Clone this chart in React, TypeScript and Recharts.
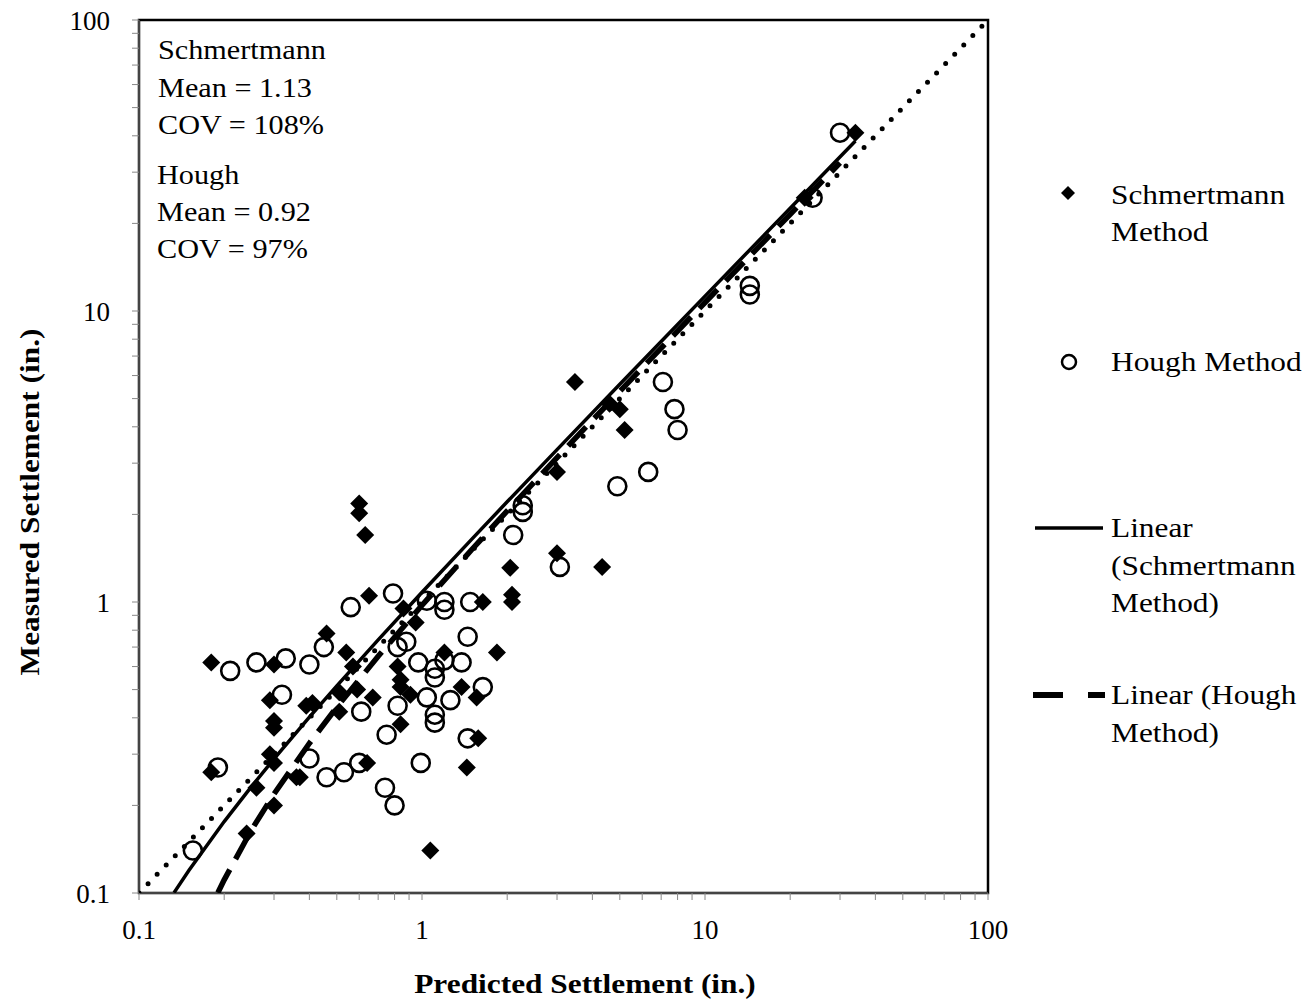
import React from 'react';
import { ScatterChart, Scatter, XAxis, YAxis, ReferenceArea } from 'recharts';

const FONT = '"Liberation Serif", "Times New Roman", serif';

// Schmertmann method, predicted vs measured settlement (in.)
const schmertmannPredicted = [
  0.18, 0.3, 0.46, 0.29, 0.41, 0.39, 0.3, 0.3, 0.29, 0.3, 0.18, 0.26, 0.36, 0.3, 0.24,
  0.65, 0.86, 1.64, 2.08, 2.08, 2.05, 0.95, 1.84, 0.54, 0.57, 0.82, 0.84, 0.84, 1.38,
  1.56, 0.51, 0.59, 0.67, 0.51, 0.91, 0.84, 1.58, 0.64, 1.44, 1.07, 0.37, 0.6, 0.6,
  0.63, 3.47, 3.0, 3.0, 4.33, 4.6, 5.0, 5.2, 34, 22.5, 1.2,
];
const schmertmannMeasured = [
  0.62, 0.61, 0.78, 0.46, 0.45, 0.44, 0.39, 0.37, 0.3, 0.28, 0.26, 0.23, 0.25, 0.2, 0.16,
  1.05, 0.95, 1.0, 1.0, 1.06, 1.31, 0.85, 0.67, 0.67, 0.6, 0.6, 0.54, 0.51, 0.51,
  0.47, 0.49, 0.5, 0.47, 0.42, 0.48, 0.38, 0.34, 0.28, 0.27, 0.14, 0.25, 2.18, 2.02,
  1.7, 5.7, 2.8, 1.47, 1.32, 4.8, 4.6, 3.9, 41, 24.5, 0.67,
];

// Hough method
const houghPredicted = [
  0.21, 0.26, 0.33, 0.4, 0.45, 0.32, 0.4, 0.46, 0.19, 0.155, 0.79, 0.56, 1.04, 1.2, 1.2,
  1.48, 1.45, 0.82, 0.88, 0.97, 1.11, 1.2, 1.38, 1.11, 1.64, 0.61, 0.82, 1.04, 1.26,
  1.11, 1.11, 0.75, 1.45, 0.53, 0.6, 0.99, 0.74, 0.8, 2.27, 2.27, 2.1, 3.07, 4.9, 6.3,
  7.1, 7.8, 8.0, 14.4, 14.4, 24, 30,
];
const houghMeasured = [
  0.58, 0.62, 0.64, 0.61, 0.7, 0.48, 0.29, 0.25, 0.27, 0.14, 1.07, 0.96, 1.01, 1.0, 0.94,
  1.0, 0.76, 0.7, 0.73, 0.62, 0.59, 0.63, 0.62, 0.55, 0.51, 0.42, 0.44, 0.47, 0.46,
  0.41, 0.385, 0.35, 0.34, 0.26, 0.28, 0.28, 0.23, 0.2, 2.15, 2.04, 1.7, 1.32, 2.5, 2.8,
  5.7, 4.6, 3.9, 12.2, 11.4, 24.5, 41,
];

const axisTicks = [
  0.1, 0.2, 0.3, 0.4, 0.5, 0.6, 0.7, 0.8, 0.9,
  1, 2, 3, 4, 5, 6, 7, 8, 9,
  10, 20, 30, 40, 50, 60, 70, 80, 90, 100,
];
const labelledTicks = [0.1, 1, 10, 100];

// Excel linear trendlines, drawn on log axes
const schmertmannFit = { slope: 1.13, intercept: -0.05, start: 0.133, end: 34 };
const houghFit = { slope: 1.08, intercept: -0.105, start: 0.19, end: 30 };
const fitSampleX = [0.15, 0.2, 0.25, 0.3, 0.4, 0.5, 0.7, 1, 1.5, 2, 3, 5, 7, 10, 15, 20, 25];
const equalityX = [0.1, 100];

const toPoints = (xs: number[], ys: number[]) => xs.map((x, i) => ({ x, y: ys[i] }));

const fitLine = (f: { slope: number; intercept: number; start: number; end: number }) =>
  [f.start, ...fitSampleX.filter((x) => x > f.start && x < f.end), f.end].map((x) => ({
    x,
    y: f.slope * x + f.intercept,
  }));

const Diamond = (props: any) => {
  const { cx, cy } = props;
  if (cx == null || cy == null) return <g />;
  const r = 9;
  return (
    <polygon
      points={`${cx},${cy - r} ${cx + r},${cy} ${cx},${cy + r} ${cx - r},${cy}`}
      fill="#000"
    />
  );
};

const Ring = (props: any) => {
  const { cx, cy } = props;
  if (cx == null || cy == null) return <g />;
  return <circle cx={cx} cy={cy} r={9} fill="none" stroke="#000" strokeWidth={2.6} />;
};

const NoMark = () => <g />;

const fmtTick = (v: number) => (labelledTicks.includes(v) ? String(v) : '');

const Txt = ({
  x,
  y,
  children,
  size = 27,
  bold = false,
  anchor = 'start',
  rotate = 0,
}: {
  x: number;
  y: number;
  children: React.ReactNode;
  size?: number;
  bold?: boolean;
  anchor?: 'start' | 'middle' | 'end';
  rotate?: number;
}) => (
  <text
    transform={`translate(${x},${y}) rotate(${rotate}) scale(1.12,1)`}
    fontFamily={FONT}
    fontSize={size}
    fontWeight={bold ? 'bold' : 'normal'}
    textAnchor={anchor}
    dominantBaseline="central"
    fill="#000"
  >
    {children}
  </text>
);

export default function App() {
  const tickStyle = { fill: '#000', fontSize: 27, fontFamily: FONT };
  return (
    <div style={{ position: 'absolute', left: 0, top: 0, width: 1310, height: 999, background: '#fff' }}>
      <ScatterChart
        width={1310}
        height={999}
        margin={{ top: 20, right: 322, bottom: 46, left: 59 }}
      >
        <XAxis
          type="number"
          dataKey="x"
          scale="log"
          domain={[0.1, 100]}
          allowDataOverflow
          ticks={axisTicks}
          interval={0}
          tickFormatter={fmtTick}
          tickSize={7}
          tickMargin={20}
          height={60}
          axisLine={{ stroke: '#888' }}
          tickLine={{ stroke: '#888' }}
          tick={tickStyle}
        />
        <YAxis
          type="number"
          dataKey="y"
          scale="log"
          domain={[0.1, 100]}
          allowDataOverflow
          ticks={axisTicks}
          interval={0}
          tickFormatter={fmtTick}
          tickSize={7}
          tickMargin={22}
          width={80}
          axisLine={{ stroke: '#888' }}
          tickLine={{ stroke: '#888' }}
          tick={tickStyle}
        />
        <ReferenceArea x1={0.1} x2={100} y1={0.1} y2={100} fill="none" stroke="#000" strokeWidth={2.5} />
        <Scatter
          data={equalityX.map((x) => ({ x, y: x }))}
          shape={NoMark}
          line={{ stroke: '#000', strokeWidth: 5, strokeDasharray: '0 13', strokeLinecap: 'round' }}
          lineType="joint"
          isAnimationActive={false}
        />
        <Scatter
          data={toPoints(schmertmannPredicted, schmertmannMeasured)}
          shape={Diamond}
          isAnimationActive={false}
        />
        <Scatter
          data={toPoints(houghPredicted, houghMeasured)}
          shape={Ring}
          isAnimationActive={false}
        />
        <Scatter
          data={fitLine(schmertmannFit)}
          shape={NoMark}
          line={{ stroke: '#000', strokeWidth: 3.5 }}
          lineType="joint"
          isAnimationActive={false}
        />
        <Scatter
          data={fitLine(houghFit)}
          shape={NoMark}
          line={{ stroke: '#000', strokeWidth: 5.5, strokeDasharray: '26 12' }}
          lineType="joint"
          isAnimationActive={false}
        />
      </ScatterChart>

      <svg
        width={1310}
        height={999}
        style={{ position: 'absolute', left: 0, top: 0, pointerEvents: 'none' }}
      >
        {/* statistics box */}
        <Txt x={158} y={50}>Schmertmann</Txt>
        <Txt x={158} y={88}>Mean = 1.13</Txt>
        <Txt x={158} y={125}>COV = 108%</Txt>
        <Txt x={157} y={175}>Hough</Txt>
        <Txt x={157} y={212}>Mean = 0.92</Txt>
        <Txt x={157} y={249}>COV = 97%</Txt>

        {/* axis titles */}
        <Txt x={585} y={984} size={28} bold anchor="middle">Predicted Settlement (in.)</Txt>
        <Txt x={30} y={502} size={28} bold anchor="middle" rotate={-90}>Measured Settlement (in.)</Txt>

        {/* legend */}
        <polygon points="1068,186 1075,193 1068,200 1061,193" fill="#000" />
        <Txt x={1111} y={195} size={28}>Schmertmann</Txt>
        <Txt x={1111} y={232} size={28}>Method</Txt>

        <circle cx={1069} cy={362} r={7} fill="none" stroke="#000" strokeWidth={2.5} />
        <Txt x={1111} y={362} size={28}>Hough Method</Txt>

        <line x1={1035} y1={528} x2={1103} y2={528} stroke="#000" strokeWidth={3.5} />
        <Txt x={1111} y={528} size={28}>Linear</Txt>
        <Txt x={1111} y={566} size={28}>(Schmertmann</Txt>
        <Txt x={1111} y={603} size={28}>Method)</Txt>

        <line x1={1033} y1={695} x2={1063} y2={695} stroke="#000" strokeWidth={6} />
        <line x1={1088} y1={695} x2={1105} y2={695} stroke="#000" strokeWidth={6} />
        <Txt x={1111} y={695} size={28}>Linear (Hough</Txt>
        <Txt x={1111} y={733} size={28}>Method)</Txt>
      </svg>
    </div>
  );
}
